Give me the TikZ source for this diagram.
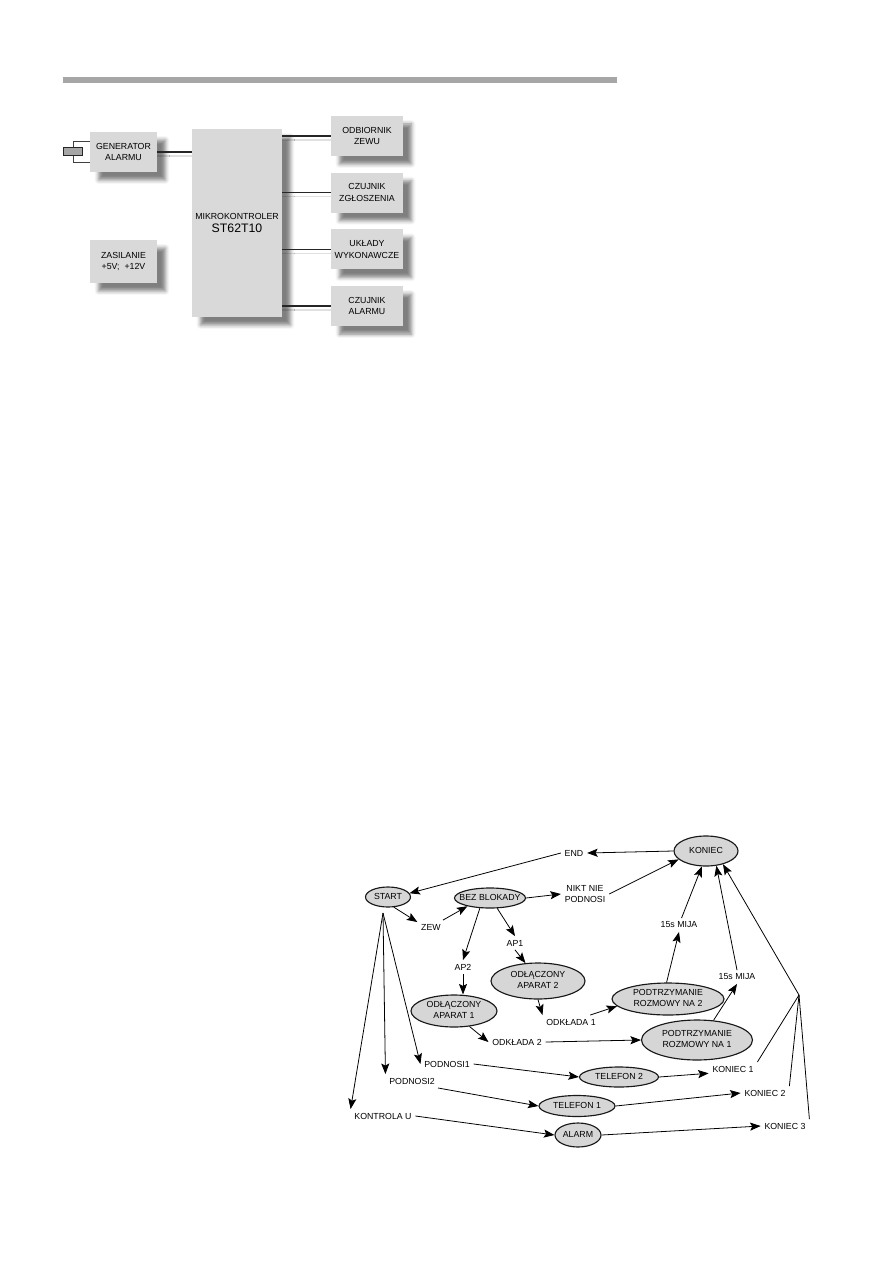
\documentclass[tikz,border=0pt]{standalone}
\usepackage{fontspec}
\setmainfont{Liberation Sans}
\usetikzlibrary{arrows.meta,positioning,shapes.geometric,shadows.blur,backgrounds}
\newcommand{\zt}[1]{\makebox[0pt]{\begin{tabular}{@{}c@{}}#1\end{tabular}}}

\begin{document}
\begin{tikzpicture}[x=0.02cm,y=-0.02cm,>={Stealth[length=6pt,width=4.6pt,inset=1.2pt]},
 blk/.style={fill=black!15,minimum width=13.4mm,minimum height=8mm,align=center,inner sep=0pt,
  font=\fontsize{5}{6.6}\selectfont,
  blur shadow={shadow xshift=1.7mm,shadow yshift=-1.6mm,shadow blur radius=0.8mm,shadow opacity=50}},
 wire/.style={black!85,line width=0.9pt},
 wireshade/.style={black!12,line width=0.9pt},
 st/.style={ellipse,draw=black!90,line width=0.65pt,fill=black!16,inner sep=0pt,font=\fontsize{5}{5.9}\selectfont},
 lab/.style={font=\fontsize{5}{5.9}\selectfont,align=center,inner sep=2pt},
 arr/.style={->,line width=0.45pt},
 ln/.style={line width=0.45pt}]
\useasboundingbox (0,0) rectangle (893,1263);
\fill[black!35] (63,77) rectangle (617,83);

\node[blk] (gen) at (123.5,152) {GENERATOR\\ALARMU};
\node[blk,minimum height=8.6mm] (zas) at (123.5,261.5) {ZASILANIE\\+5V;\ \ +12V};
\node[blk,minimum width=18mm,minimum height=37.6mm] (mcu) at (237,223) {MIKROKONTROLER\\[1pt]{\fontsize{7}{8}\selectfont ST62T10}};
\node[blk,minimum width=14.4mm] (odb) at (367,136) {ODBIORNIK\\ZEWU};
\node[blk,minimum width=14.4mm,below=3.2mm of odb] (zgl) {CZUJNIK\\ZGŁOSZENIA};
\node[blk,minimum width=14.4mm,below=3.2mm of zgl] (wyk) {UKŁADY\\WYKONAWCZE};
\node[blk,minimum width=14.4mm,below=3.2mm of wyk] (czal) {CZUJNIK\\ALARMU};
\node[draw=black!85,line width=0.8pt,fill=black!35,minimum width=3.8mm,minimum height=1.6mm,inner sep=0pt] (kw) at (73,151.5) {};
\draw[black!75,line width=0.5pt] ([yshift=2.2mm]gen.west) -| (kw.north);
\draw[black!75,line width=0.5pt] ([yshift=-2mm]gen.west) -| (kw.south);
\draw[wire] (gen.east) -- (gen.east -| mcu.west);
\foreach \b in {odb,zgl,wyk,czal} \draw[wire] (\b.west -| mcu.east) -- (\b.west);
\begin{scope}[on background layer]
\draw[wireshade] ([yshift=-0.8mm]gen.east) -- ([yshift=-0.8mm]gen.east -| mcu.west);
\foreach \b in {odb,zgl,wyk,czal} \draw[wireshade] ([yshift=-0.8mm]\b.west -| mcu.east) -- ([yshift=-0.8mm]\b.west);
\end{scope}

\node[st,minimum width=9mm,minimum height=4mm] (start) at (388,897) {\zt{START}};
\node[st,minimum width=14.2mm,minimum height=4mm] (bez) at (490,898) {\zt{BEZ BLOKADY}};
\node[st,minimum width=12.8mm,minimum height=6mm] (koniec) at (706,851) {\zt{KONIEC}};
\node[st,minimum width=18.8mm,minimum height=7.2mm] (odl2) at (538,981) {\zt{ODŁĄCZONY\\APARAT 2}};
\node[st,minimum width=17.2mm,minimum height=6.4mm] (odl1) at (454,1011) {\zt{ODŁĄCZONY\\APARAT 1}};
\node[st,minimum width=22.4mm,minimum height=6.4mm] (pna2) at (668,999) {\zt{PODTRZYMANIE\\ROZMOWY NA 2}};
\node[st,minimum width=22.2mm,minimum height=8mm] (pna1) at (697,1040) {\zt{PODTRZYMANIE\\ROZMOWY NA 1}};
\node[st,minimum width=15.8mm,minimum height=4mm] (tel2) at (619,1077) {\zt{TELEFON 2}};
\node[st,minimum width=15.2mm,minimum height=4.2mm] (tel1) at (577,1106) {\zt{TELEFON 1}};
\node[st,minimum width=9.2mm,minimum height=4.8mm] (alarm) at (578,1135) {\zt{ALARM}};
\node[lab] (endl) at (574,853) {END};
\node[lab] (nikt) at (585,894) {NIKT NIE\\PODNOSI};
\node[lab] (zew) at (431,927) {ZEW};
\node[lab] (ap1) at (515,943) {AP1};
\node[lab] (ap2) at (463,967) {AP2};
\node[lab] (odk1) at (571,1022) {ODKŁADA 1};
\node[lab] (odk2) at (517,1042) {ODKŁADA 2};
\node[lab] (mija1) at (679,925) {15s MIJA};
\node[lab] (mija2) at (737,977) {15s MIJA};
\node[lab] (pod1) at (447,1064) {PODNOSI1};
\node[lab] (pod2) at (412,1081) {PODNOSI2};
\node[lab] (kontr) at (383,1116) {KONTROLA U};
\node[lab] (kon1) at (733,1069) {KONIEC 1};
\node[lab] (kon2) at (765,1093) {KONIEC 2};
\node[lab] (kon3) at (785,1126) {KONIEC 3};
\coordinate (fan) at (383,913);
\coordinate (zb) at (799,995);

\draw[arr] (koniec.west) -- (endl.east);
\draw[arr] (endl.west) -- (start.10);
\draw[arr] (bez.east) -- (nikt.west);
\draw[arr] (nikt.east) -- (koniec.197);
\draw[arr] (start.300) -- (zew.160);
\draw[arr] (zew.30) -- (bez.200);
\draw[arr] (bez.225) -- (ap2.north);
\draw[arr] (ap2.south) -- (ap2.south |- odl1.north);
\draw[arr] (bez.305) -- (ap1.north);
\draw[arr] (ap1.south) -- (odl2.125);
\draw[arr] (odl2.south) -- (odk1.north west);
\draw[arr] (odl1.315) -- (odk2.west);
\draw[arr] (odk2.east) -- (pna1.west);
\draw[arr] (odk1.20) -- (pna2.188);
\draw[arr] (pna2.95) -- (mija1.south);
\draw[arr] (mija1.70) -- (koniec.255);
\draw[arr] (pna1.50) -- (mija2.south);
\draw[arr] (mija2.north) -- (koniec.305);
\draw[arr] (zb) -- (koniec.322);
\foreach \k in {kon1,kon2,kon3} \draw[ln] (\k.north east) -- (zb);
\draw[arr] (fan) -- (kontr.north west);
\draw[arr] (fan) -- (pod2.north west);
\draw[arr] (fan) -- (pod1.west);
\draw[arr] (pod1.east) -- (tel2.west);
\draw[arr] (tel2.east) -- (kon1.190);
\draw[arr] (pod2.-15) -- (tel1.west);
\draw[arr] (tel1.east) -- (kon2.west);
\draw[arr] (kontr.east) -- (alarm.west);
\draw[arr] (alarm.east) -- (kon3.west);
\end{tikzpicture}
\end{document}
